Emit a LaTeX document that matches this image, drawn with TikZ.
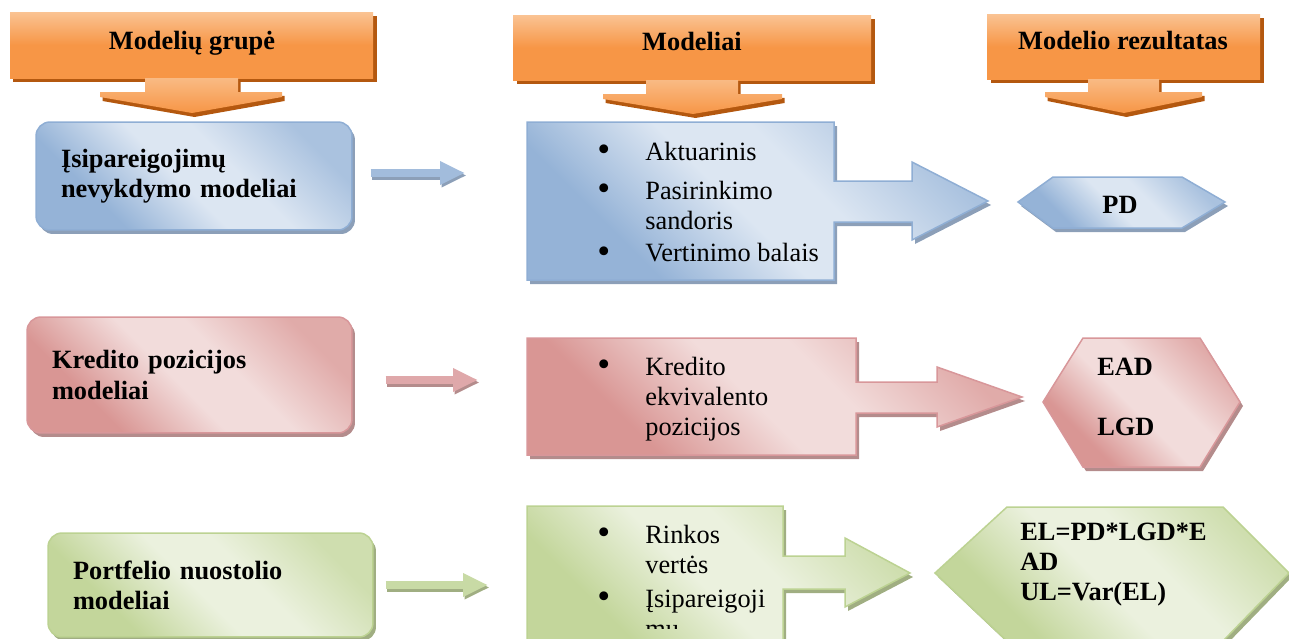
\documentclass[tikz,border=0pt]{standalone}
\usepackage{fontspec}
\setmainfont{Liberation Serif}
\usetikzlibrary{shadows,arrows.meta}

\definecolor{orL}{HTML}{FAC393}
\definecolor{orM}{HTML}{F79646}
\definecolor{orSh}{HTML}{B4580F}
\definecolor{blueD}{HTML}{95B3D7}
\definecolor{blueL}{HTML}{DCE6F2}
\definecolor{blueB}{HTML}{8FAED4}
\definecolor{blueSh}{HTML}{8C9FB8}
\definecolor{pinkD}{HTML}{D99694}
\definecolor{pinkL}{HTML}{F2DCDB}
\definecolor{pinkB}{HTML}{D8979A}
\definecolor{pinkSh}{HTML}{B48C8C}
\definecolor{greenD}{HTML}{C3D69B}
\definecolor{greenL}{HTML}{EBF1DE}
\definecolor{greenB}{HTML}{BCD292}
\definecolor{greenSh}{HTML}{A0AE82}

% diagonal fades for the three rows
\pgfdeclarehorizontalshading{bluefade}{100bp}{color(0bp)=(blueD); color(30bp)=(blueD); color(47bp)=(blueL); color(58bp)=(blueL); color(75bp)=(blueD!70!blueL); color(100bp)=(blueD!70!blueL)}
\pgfdeclarehorizontalshading{pinkfade}{100bp}{color(0bp)=(pinkD); color(30bp)=(pinkD); color(47bp)=(pinkL); color(58bp)=(pinkL); color(75bp)=(pinkD!70!pinkL); color(100bp)=(pinkD!70!pinkL)}
\pgfdeclarehorizontalshading{greenfade}{100bp}{color(0bp)=(greenD); color(30bp)=(greenD); color(47bp)=(greenL); color(58bp)=(greenL); color(75bp)=(greenD!70!greenL); color(100bp)=(greenD!70!greenL)}

\newcommand{\blt}{\raisebox{-0.15ex}{\scalebox{1.4}{\textbullet}}}

\begin{document}
\begin{tikzpicture}[
    x=0.02cm, y=-0.02cm,
    every node/.style={font=\fontsize{15}{17.25}\selectfont, inner sep=0pt},
    lbl/.style={font=\fontsize{15}{17.25}\selectfont\bfseries},
    hdr/.style={top color=orL, bottom color=orM, middle color=orM,
      drop shadow={shadow xshift=0.7mm, shadow yshift=-0.8mm, fill=orSh, opacity=1}},
    hdrarrow/.style={top color=orL!80!orM, bottom color=orM,
      drop shadow={shadow xshift=0.5mm, shadow yshift=-0.8mm, fill=orSh, opacity=1}},
    grpbox/.style={rounded corners=2.8mm, draw=#1B, line width=0.3mm, shade, shading=#1fade,
      shading angle=45, inner xsep=5mm, align=left, lbl,
      drop shadow={shadow xshift=0.6mm, shadow yshift=-0.8mm, fill=#1Sh, opacity=1}},
    mbox/.style={draw=#1B, line width=0.3mm, shade, shading=#1fade, shading angle=45,
      drop shadow={shadow xshift=0.6mm, shadow yshift=-0.8mm, fill=#1Sh, opacity=1}},
    link/.style={line width=1.6mm, -{Triangle[length=5mm,width=4.4mm]}}
  ]
  \useasboundingbox (0,0) rectangle (1289,639);
  \clip (0,0) rectangle (1289,639);

  % headers
  \path[hdr] (10,12) rectangle (373,78);
  \path[hdrarrow] (145,78) -- (238,78) -- (238,92) -- (282,92) -- (282,97) -- (192,113) -- (100,97) -- (100,92) -- (145,92) -- cycle;
  \node[lbl, anchor=base] (hgrp) at (192,50) {Modelių grupė};
  \path[hdr] (513,15) rectangle (871,80);
  \path[hdrarrow] (646,80) -- (738,80) -- (738,94) -- (782,94) -- (782,99) -- (693,114) -- (603,99) -- (603,94) -- (646,94) -- cycle;
  \node[lbl, anchor=base] (hmod) at (692,51) {Modeliai};
  \path[hdr] (987,14) rectangle (1260,79);
  \path[hdrarrow] (1088,79) -- (1159,79) -- (1159,92) -- (1202,92) -- (1202,97) -- (1124,113) -- (1045,97) -- (1045,92) -- (1088,92) -- cycle;
  \node[lbl, anchor=base] (hres) at (1123,50) {Modelio rezultatas};

  % row 1
  \node[grpbox=blue, minimum height=2.16cm, text width=5.32cm] (grp1) at (194,176) {Įsipareigojimų\\nevykdymo modeliai};
  \coordinate (in1) at (465,173);
  \draw[link, blueSh, shorten <=3.6mm, transform canvas={shift={(0.3mm,-0.5mm)}}] (grp1.east |- in1) -- (in1);
  \draw[link, blueB!75!blueL, shorten <=3.6mm] (grp1.east |- in1) -- (in1);
  \path[mbox=blue] (527,122) -- (834,122) -- (834,181) -- (912,181) -- (912,162) -- (988,201) -- (912,240) -- (912,222) -- (834,222) -- (834,280) -- (527,280) -- cycle;
  \node[anchor=base west] (mod1) at (597,160) {\begin{tabular}[t]{@{}p{0.96cm}@{}l@{}}
    \blt & Aktuarinis\\[5pt]
    \blt & Pasirinkimo\\
    & sandoris\\[1pt]
    \blt & Vertinimo balais
  \end{tabular}};
  \path[mbox=blue] (1018,202) -- (1053,177) -- (1182,177) -- (1225,202) -- (1182,228) -- (1053,228) -- cycle;
  \node[lbl] (res1) at (1120,205) {PD};

  % row 2
  \node[grpbox=pink, minimum height=2.32cm, text width=5.5cm] (grp2) at (189.5,375) {Kredito pozicijos\\modeliai};
  \coordinate (in2) at (478,380);
  \draw[link, pinkSh, shorten <=6.6mm, transform canvas={shift={(0.3mm,-0.5mm)}}] (grp2.east |- in2) -- (in2);
  \draw[link, pinkB!75!pinkL, shorten <=6.6mm] (grp2.east |- in2) -- (in2);
  \path[mbox=pink] (527,338) -- (856,338) -- (856,382) -- (937,382) -- (937,367) -- (1022,397) -- (937,427) -- (937,413) -- (856,413) -- (856,455) -- (527,455) -- cycle;
  \node[anchor=base west] (mod2) at (597,375) {\begin{tabular}[t]{@{}p{0.96cm}@{}l@{}}
    \blt & Kredito\\
    & ekvivalento\\
    & pozicijos
  \end{tabular}};
  \path[mbox=pink] (1043,402) -- (1083,338) -- (1200,338) -- (1240,402) -- (1200,467) -- (1083,467) -- cycle;
  \node[lbl, anchor=base west] (res2) at (1097,375) {\begin{tabular}[t]{@{}l@{}}EAD\\[17pt]LGD\end{tabular}};

  % row 3
  \node[grpbox=green, minimum height=2.08cm, text width=5.5cm] (grp3) at (210.5,585) {Portfelio nuostolio\\modeliai};
  \coordinate (in3) at (488,585);
  \draw[link, greenSh, shorten <=2.4mm, transform canvas={shift={(0.3mm,-0.5mm)}}] (grp3.east |- in3) -- (in3);
  \draw[link, greenB!75!greenL, shorten <=2.4mm] (grp3.east |- in3) -- (in3);
  \path[mbox=green] (527,506) -- (783,506) -- (783,556) -- (845,556) -- (845,538) -- (910,573) -- (845,607) -- (845,589) -- (783,589) -- (783,650) -- (527,650) -- cycle;
  \begin{scope}
    \clip (527,506) rectangle (783,628);
    \node[anchor=base west] (mod3) at (597,543) {\begin{tabular}[t]{@{}p{0.96cm}@{}l@{}}
      \blt & Rinkos\\
      & vertės\\[2pt]
      \blt & Įsipareigoji\\
      & mų
    \end{tabular}};
  \end{scope}
  \path[mbox=green] (935,573) -- (1007,507) -- (1223,507) -- (1289,573) -- (1223,641) -- (1007,641) -- cycle;
  \node[lbl, anchor=base west] (res3) at (1020,540) {\begin{tabular}[t]{@{}l@{}}EL=PD*LGD*E\\AD\\UL=Var(EL)\end{tabular}};
\end{tikzpicture}
\end{document}
